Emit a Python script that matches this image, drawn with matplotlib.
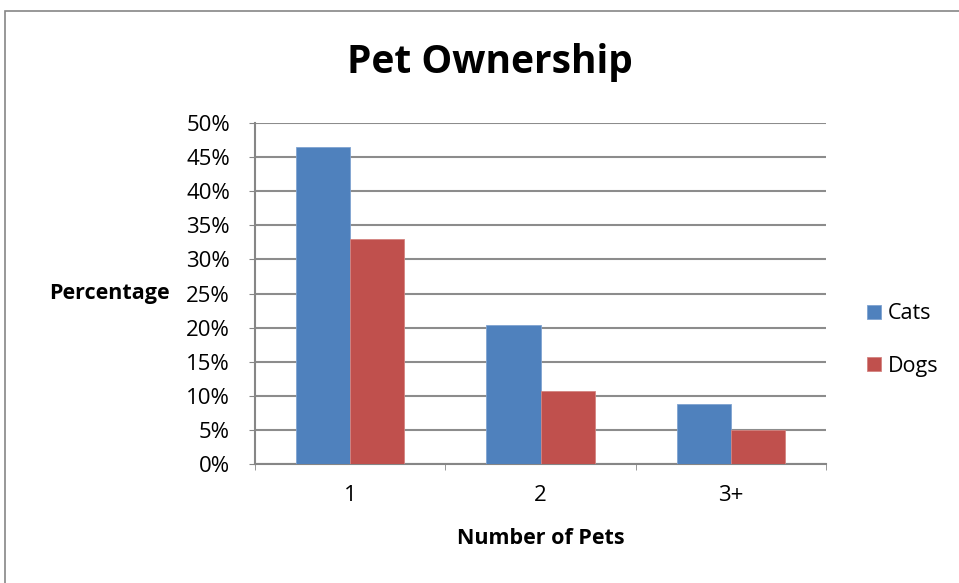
import numpy as np
import matplotlib.pyplot as plt
from matplotlib.patches import Rectangle

categories = ["1", "2", "3+"]
cats = [46.5, 20.4, 8.8]
dogs = [33.0, 10.7, 5.0]

plt.rcParams['font.family'] = ['Open Sans', 'DejaVu Sans']

fig = plt.figure(figsize=(9.59, 5.83), dpi=100)
ax = fig.add_axes([255/959, 1 - 464/583, 571/959, 341/583])

# chart border
fig.patches.append(Rectangle((5/959, -0.1), 1.1, 1 - 11/583 + 0.1, transform=fig.transFigure,
                             fill=False, edgecolor="#868686", linewidth=1.2))

x = np.arange(len(categories))
w = 0.285
ax.bar(x - w/2, cats, w, color="#4F81BD", edgecolor="#7FA3D1", linewidth=0.6, label="Cats", zorder=3)
ax.bar(x + w/2, dogs, w, color="#C0504D", edgecolor="#D48481", linewidth=0.6, label="Dogs", zorder=3)

ax.set_xlim(-0.5, 2.5)
ax.set_ylim(0, 50)
ax.set_yticks(range(0, 51, 5))
ax.set_yticklabels([f"{v}%" for v in range(0, 51, 5)], fontsize=16)
ax.set_xticks(x)
ax.set_xticklabels(categories, fontsize=16)
ax.tick_params(axis="x", length=0, pad=15)
ax.tick_params(axis="y", length=4, color="#868686", pad=14)
ax.set_xticks([-0.5, 0.5, 1.5, 2.5], minor=True)
ax.tick_params(axis="x", which="minor", length=4, color="#868686")

ax.yaxis.grid(True, color="#8C8C8C", linewidth=1.5, zorder=0)
for s in ["top", "right"]:
    ax.spines[s].set_visible(False)
for s in ["left", "bottom"]:
    ax.spines[s].set_color("#868686")
    ax.spines[s].set_linewidth(1.5)

ax.set_xlabel("Number of Pets", fontsize=15.5, fontweight="bold", va="center")
ax.xaxis.set_label_coords(0.5, (464 - 539) / 341)
ax.set_ylabel("Percentage", fontsize=15.5, fontweight="bold", rotation=0, ha="right", va="center")
ax.yaxis.set_label_coords((170 - 255) / 571, (464 - 294) / 341)

fig.text(490/959, 1 - 62/583, "Pet Ownership", fontsize=28, fontweight="bold", ha="center", va="center")

ax.legend(loc="center left", bbox_to_anchor=(1.056, (464 - 340) / 341), frameon=False, fontsize=15.5,
          handlelength=0.65, handleheight=0.65, labelspacing=1.45, handletextpad=0.35,
          borderaxespad=0)

fig.savefig("out.png", dpi=100)
